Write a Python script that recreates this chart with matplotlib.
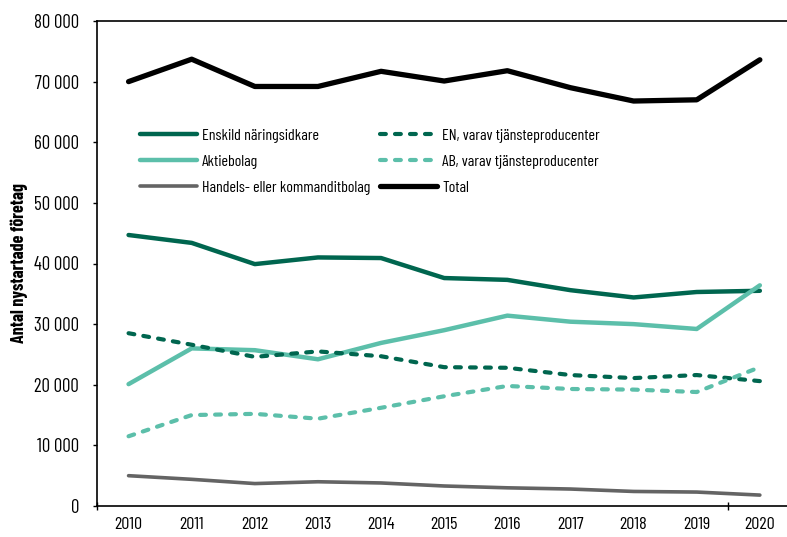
import matplotlib
matplotlib.use("Agg")
import matplotlib.pyplot as plt
import numpy as np

plt.rcParams['font.family'] = ['Barlow Condensed', 'DejaVu Sans']

years = [2010, 2011, 2012, 2013, 2014, 2015, 2016, 2017, 2018, 2019, 2020]
total = [70000, 73700, 69200, 69200, 71700, 70100, 71800, 69000, 66800, 67000, 73600]
enskild = [44700, 43400, 39900, 41000, 40900, 37600, 37300, 35600, 34400, 35300, 35500]
aktiebolag = [20100, 26000, 25700, 24200, 26900, 29000, 31400, 30400, 30000, 29200, 36400]
en_tjanst = [28500, 26600, 24600, 25500, 24700, 22900, 22800, 21600, 21100, 21600, 20600]
ab_tjanst = [11500, 15000, 15200, 14400, 16200, 18100, 19800, 19300, 19200, 18800, 22900]
handels = [5000, 4400, 3700, 4000, 3800, 3300, 3000, 2800, 2400, 2300, 1800]

labels = ['Enskild näringsidkare', 'Aktiebolag', 'Handels- eller kommanditbolag',
          'EN, varav tjänsteproducenter', 'AB, varav tjänsteproducenter', 'Total']

dark = '#00664f'
light = '#5cbfaa'
gray = '#646464'

fig = plt.figure(figsize=(7.87, 5.37), dpi=100)
ax = fig.add_axes([97/787, 31/537, 1 - 97/787, (506-21)/537])

dash = (0, (1.4, 2.2))
x = np.arange(len(years))
ax.plot(x, enskild, color=dark, lw=3.2, solid_capstyle='round', label=labels[0])
ax.plot(x, aktiebolag, color=light, lw=3.2, solid_capstyle='round', label=labels[1])
ax.plot(x, handels, color=gray, lw=2.6, solid_capstyle='round', label=labels[2])
ax.plot(x, en_tjanst, color=dark, lw=3.0, ls=dash, dash_capstyle='round', label=labels[3])
ax.plot(x, ab_tjanst, color=light, lw=3.0, ls=dash, dash_capstyle='round', label=labels[4])
ax.plot(x, total, color='black', lw=3.8, solid_capstyle='round', label=labels[5])

ax.set_xlim(-0.47, 10.43)
ax.set_ylim(0, 80000)
ax.set_yticks(np.arange(0, 80001, 10000))
ax.set_yticklabels([f'{v:,}'.replace(',', ' ') for v in range(0, 80001, 10000)], fontsize=13.5)

ax.set_xticks([-0.5, 9.5])
ax.set_xticklabels(['', ''])
ax.set_xticks(x, minor=True)
ax.set_xticklabels([str(y) for y in years], minor=True, fontsize=13)
ax.tick_params(axis='x', which='minor', length=0, pad=8)
ax.tick_params(axis='x', which='major', length=6, direction='inout', width=1)
ax.tick_params(axis='y', length=3, width=1, direction='out', pad=10)

for s in ['top', 'left', 'bottom']:
    ax.spines[s].set_linewidth(1.2)
ax.spines['right'].set_visible(False)

ax.set_ylabel('Antal nystartade företag', fontsize=13, fontweight='bold', labelpad=4)

leg = ax.legend(ncol=2, loc='upper left', bbox_to_anchor=(0.041, 0.808), frameon=False,
                fontsize=11.5, handlelength=3.6, handletextpad=0.3, columnspacing=0.6,
                labelspacing=0.75)

fig.savefig('out.png', dpi=100)
